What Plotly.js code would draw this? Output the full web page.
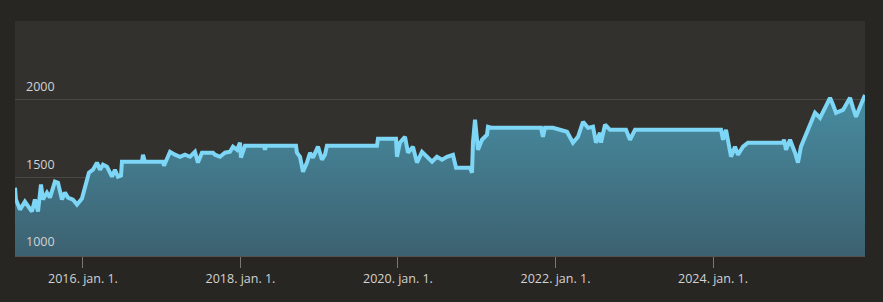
<!DOCTYPE html>
<html>
<head>
<meta charset="utf-8">
<script src="https://cdn.plot.ly/plotly-3.0.1.min.js"></script>
<style>
html,body{margin:0;padding:0;background:#282622;}
#chart{width:883px;height:302px;}
</style>
</head>
<body>
<div id="chart"></div>
<script>
// x values as decimal years, y values as price
var years = [2015.137,2015.149,2015.200,2015.263,2015.352,2015.390,2015.429,2015.467,2015.492,2015.543,
2015.581,2015.644,2015.683,2015.733,2015.771,2015.810,2015.873,2015.924,2015.987,2016.038,
2016.076,2016.127,2016.178,2016.216,2016.254,2016.305,2016.368,2016.406,2016.444,2016.483,
2016.495,2016.749,2016.762,2016.787,2017.016,2017.029,2017.067,2017.105,2017.168,2017.232,
2017.295,2017.359,2017.422,2017.460,2017.511,2017.651,2017.676,2017.740,2017.803,2017.867,
2017.905,2017.956,2017.994,2018.006,2018.057,2018.298,2018.311,2018.324,2018.705,2018.717,
2018.756,2018.794,2018.844,2018.883,2018.921,2018.984,2019.035,2019.073,2019.098,2019.733,
2019.746,2019.975,2019.987,2020.025,2020.089,2020.127,2020.190,2020.241,2020.305,2020.368,
2020.432,2020.495,2020.559,2020.622,2020.698,2020.737,2020.914,2020.940,2020.952,2020.978,
2021.016,2021.067,2021.130,2021.143,2021.194,2021.816,2021.841,2021.867,2021.968,2022.146,
2022.222,2022.286,2022.349,2022.413,2022.476,2022.514,2022.565,2022.578,2022.629,2022.692,
2022.895,2022.946,2023.010,2024.102,2024.127,2024.165,2024.229,2024.279,2024.317,2024.381,
2024.444,2024.889,2024.902,2024.927,2024.978,2025.041,2025.079,2025.117,2025.168,2025.232,
2025.295,2025.359,2025.422,2025.486,2025.524,2025.562,2025.651,2025.740,2025.778,2025.816,
2025.867,2025.905,2025.930];
var prices = [1432,1355,1290,1342,1277,1355,1277,1452,1355,1400,
1368,1471,1464,1355,1400,1368,1355,1323,1361,1464,
1529,1548,1594,1548,1581,1568,1503,1548,1503,1510,
1600,1600,1645,1600,1600,1574,1626,1664,1645,1632,
1645,1632,1664,1594,1658,1658,1645,1632,1658,1664,
1697,1677,1723,1626,1703,1703,1677,1703,1703,1658,
1632,1535,1594,1658,1626,1697,1613,1645,1703,1703,
1748,1748,1632,1723,1761,1658,1697,1594,1664,1632,
1600,1632,1613,1632,1645,1561,1561,1529,1723,1871,
1677,1742,1774,1826,1819,1819,1761,1819,1819,1794,
1723,1761,1858,1819,1826,1723,1787,1723,1839,1806,
1806,1742,1806,1806,1742,1806,1632,1697,1645,1697,
1723,1723,1742,1677,1742,1658,1594,1697,1761,1826,
1916,1884,1955,2013,1968,1916,1935,2013,1948,1890,
1955,2000,2032];
var xTickVals = [2016,2018,2020,2022,2024];
var xTickText = ["2016. jan. 1.","2018. jan. 1.","2020. jan. 1.","2022. jan. 1.","2024. jan. 1."];
var yTickVals = [1000,1500,2000];
var yTickText = ["1000","1500","2000"];

var trace = {
  x: years, y: prices, type: 'scatter', mode: 'lines',
  line: {color: '#7dd6f5', width: 4},
  fill: 'tozeroy',
  fillgradient: {type: 'vertical', start: 990, stop: 1900,
    colorscale: [[0, '#3c6170'], [1, '#46879b']]},
  hoverinfo: 'skip'
};

var layout = {
  width: 883, height: 302,
  margin: {l: 15, r: 18, t: 21, b: 46},
  paper_bgcolor: '#282622',
  plot_bgcolor: '#33312d',
  showlegend: false,
  font: {family: 'Open Sans, sans-serif', color: '#d2d2d2', size: 12.5},
  xaxis: {
    range: [2015.137, 2025.930],
    tickvals: xTickVals, ticktext: xTickText,
    showgrid: false, zeroline: false,
    showline: true, linecolor: '#55524d', linewidth: 1,
    ticks: 'outside', ticklen: 11, tickcolor: '#7a7873', tickwidth: 1,
    tickfont: {size: 12.5, color: '#d2d2d2'}
  },
  yaxis: {
    range: [990, 2510],
    tickvals: yTickVals, ticktext: yTickText,
    showgrid: true, gridcolor: '#4a4844', gridwidth: 1,
    zeroline: false, showline: false,
    ticklabelposition: 'inside', ticklabelshift: -13, ticklabelstandoff: 8,
    ticklabeloverflow: 'allow',
    tickfont: {size: 12.5, color: '#d2d2d2'}
  }
};

Plotly.newPlot('chart', [trace], layout, {displayModeBar: false, staticPlot: true});
</script>
</body>
</html>
